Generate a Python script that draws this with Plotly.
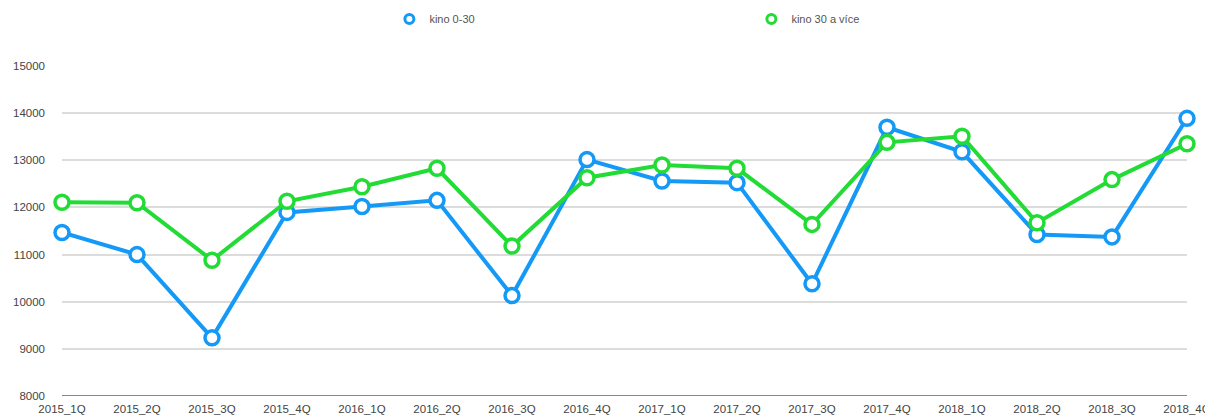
import plotly.graph_objects as go

categories = ["2015_1Q", "2015_2Q", "2015_3Q", "2015_4Q",
              "2016_1Q", "2016_2Q", "2016_3Q", "2016_4Q",
              "2017_1Q", "2017_2Q", "2017_3Q", "2017_4Q",
              "2018_1Q", "2018_2Q", "2018_3Q", "2018_4Q"]
kino_0_30 = [11468, 11000, 9234, 11894, 12020, 12150, 10130, 13015,
             12560, 12525, 10380, 13700, 13180, 11425, 11375, 13890]
kino_30_plus = [12110, 12100, 10880, 12130, 12440, 12830, 11180, 12630,
                12900, 12830, 11640, 13380, 13510, 11675, 12590, 13350]
series_names = ["kino 0-30", "kino 30 a více"]
colors = ["#1499f7", "#22dc35"]

fig = go.Figure()
for name, vals, col in zip(series_names, [kino_0_30, kino_30_plus], colors):
    fig.add_trace(go.Scatter(
        x=categories, y=vals, mode="lines+markers", name=name,
        line=dict(color=col, width=4),
        marker=dict(symbol="circle", size=14, color="white",
                    line=dict(color=col, width=3.5)),
        cliponaxis=False, showlegend=False))
    fig.add_trace(go.Scatter(
        x=[None], y=[None], mode="markers", name=name,
        marker=dict(symbol="circle", size=9, color="white",
                    line=dict(color=col, width=3)),
        showlegend=True))

fig.update_layout(
    width=1205, height=409,
    margin=dict(l=54, r=26, t=58, b=21, autoexpand=False),
    paper_bgcolor="white", plot_bgcolor="white",
    font=dict(family="Liberation Sans, Arial, sans-serif", size=11, color="#444"),
    legend=dict(orientation="h", x=0.291, xanchor="left",
                yref="container", y=0.973, yanchor="middle",
                entrywidth=317, entrywidthmode="pixels",
                font=dict(size=11, color="#555"), bgcolor="rgba(0,0,0,0)"),
    xaxis=dict(type="category", range=[0, 15], showgrid=False,
               showline=False, ticks="", automargin=False, ticklabelstandoff=4,
               tickfont=dict(size=11.5, color="#444")),
    yaxis=dict(range=[8000, 15000], dtick=1000, tickformat="d", showgrid=True,
               gridcolor="#dcdcdc", gridwidth=1.5, zeroline=False, automargin=False,
               showline=False, ticks="", ticklabelstandoff=16,
               tickfont=dict(size=11.5, color="#444")),
)
fig.add_shape(type="line", xref="paper", yref="y", x0=0, x1=1, y0=8000, y1=8000,
              line=dict(color="#888", width=2), layer="above")

fig.write_html("out.html")
